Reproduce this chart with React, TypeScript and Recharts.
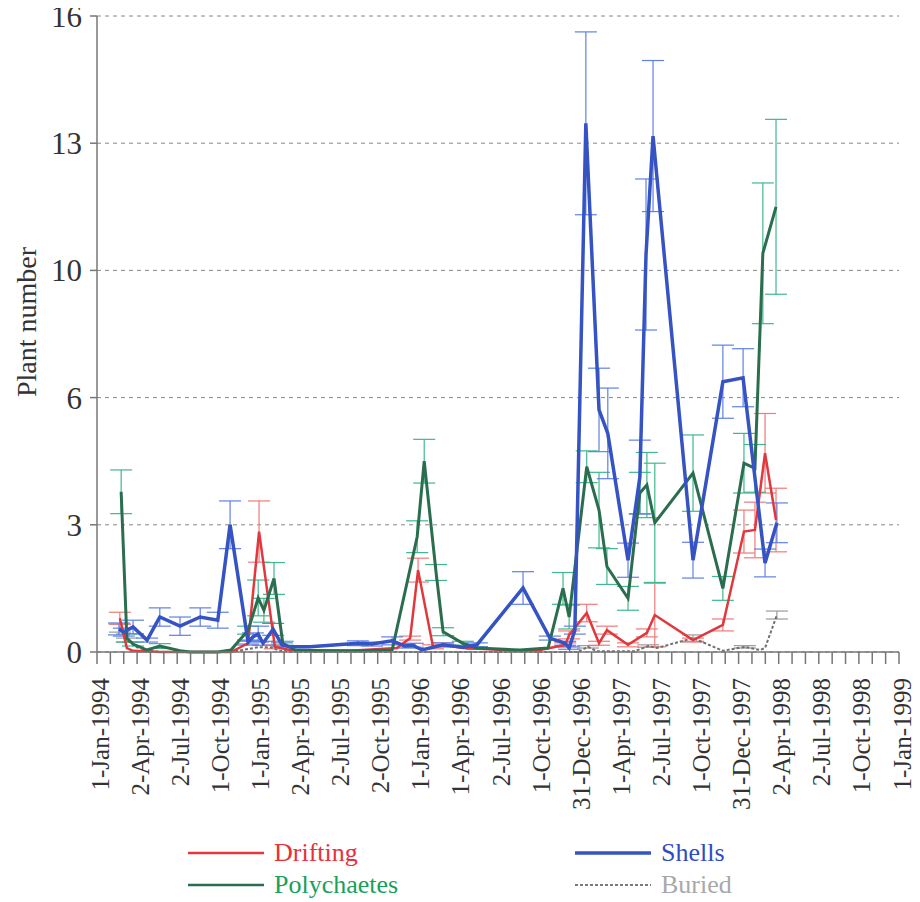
import React from 'react';
import { LineChart, Line, XAxis, YAxis, CartesianGrid, ErrorBar } from 'recharts';

// x values: days since 1-Jan-1994
const TOTAL_DAYS = 1826;
const TICK_LABELS = [
  '1-Jan-1994', '2-Apr-1994', '2-Jul-1994', '1-Oct-1994', '1-Jan-1995', '2-Apr-1995',
  '2-Jul-1995', '2-Oct-1995', '1-Jan-1996', '1-Apr-1996', '2-Jul-1996', '1-Oct-1996',
  '31-Dec-1996', '1-Apr-1997', '2-Jul-1997', '1-Oct-1997', '31-Dec-1997', '2-Apr-1998',
  '2-Jul-1998', '1-Oct-1998', '1-Jan-1999',
];
const Y_TICKS = [0, 3.2, 6.4, 9.6, 12.8, 16];

const shellsDay = [50, 61, 82, 114, 143, 189, 235, 275, 303, 344, 355, 367, 378, 401, 421, 439, 485, 594, 626, 672, 701, 719, 740, 788, 833, 865, 970, 1031, 1066, 1075, 1088, 1113, 1143, 1163, 1209, 1236, 1250, 1266, 1357, 1425, 1471, 1521, 1548];
const shellsValue = [0.58, 0.5, 0.63, 0.3, 0.88, 0.65, 0.88, 0.8, 3.2, 0.25, 0.38, 0.45, 0.22, 0.57, 0.18, 0.13, 0.13, 0.22, 0.2, 0.28, 0.15, 0.17, 0.05, 0.18, 0.12, 0.18, 1.61, 0.35, 0.22, 0.1, 0.55, 13.3, 6.09, 5.5, 2.31, 4.4, 10.0, 12.98, 2.31, 6.8, 6.9, 2.24, 3.25];
const shellsError = [0.15, 0.1, 0.17, 0.05, 0.23, 0.23, 0.23, 0.2, 0.6, 0.05, 0.1, 0.2, 0.05, 0.15, 0.05, 0, 0, 0.06, 0.05, 0.1, 0.05, 0.05, 0, 0.05, 0, 0.05, 0.41, 0.05, 0.05, 0.03, 0.1, 2.3, 1.05, 1.14, 0.43, 0.93, 1.9, 1.9, 0.45, 0.92, 0.73, 0.35, 0.5];

const polyDay = [55, 68, 82, 114, 143, 189, 212, 275, 305, 344, 367, 380, 403, 423, 451, 508, 599, 672, 729, 745, 772, 788, 833, 865, 963, 1027, 1061, 1075, 1115, 1143, 1161, 1209, 1236, 1252, 1270, 1357, 1425, 1473, 1498, 1516, 1546];
const polyValue = [4.03, 0.35, 0.2, 0.05, 0.15, 0.03, 0, 0, 0.05, 0.55, 1.36, 1.05, 1.85, 0.22, 0.05, 0.03, 0.03, 0.05, 2.9, 4.8, 2.0, 0.51, 0.22, 0.1, 0.05, 0.1, 1.6, 0.88, 4.66, 3.57, 2.15, 1.35, 4.0, 4.2, 3.25, 4.5, 1.6, 4.75, 4.62, 10.03, 11.2];
const polyError = [0.55, 0.1, 0.05, 0, 0.06, 0, 0, 0, 0, 0.1, 0.45, 0.3, 0.4, 0.05, 0, 0, 0, 0, 0.4, 0.55, 0.2, 0.1, 0.05, 0.03, 0, 0, 0.4, 0.3, 0.4, 0.95, 0.45, 0.3, 0.52, 0.82, 1.5, 0.96, 0.3, 0.75, 0.6, 1.77, 2.2];

const driftDay = [52, 68, 82, 143, 235, 305, 344, 369, 405, 439, 576, 683, 713, 731, 765, 788, 833, 963, 1009, 1066, 1075, 1115, 1143, 1161, 1209, 1252, 1270, 1357, 1425, 1473, 1498, 1521, 1546];
const driftValue = [0.85, 0.1, 0.03, 0, 0, 0, 0.22, 3.03, 0.13, 0.05, 0.03, 0.1, 0.35, 2.06, 0.13, 0.18, 0.1, 0.03, 0.05, 0.18, 0.43, 0.98, 0.22, 0.55, 0.18, 0.48, 0.93, 0.3, 0.68, 3.03, 3.07, 5.0, 3.32];
const driftError = [0.15, 0, 0, 0, 0, 0, 0.05, 0.77, 0.05, 0, 0, 0, 0.05, 0.3, 0.05, 0.05, 0, 0, 0, 0.05, 0.1, 0.22, 0.05, 0.1, 0.05, 0.1, 0.8, 0.05, 0.15, 0.54, 0.7, 1.0, 0.8];

const buriedDay = [52, 68, 91, 114, 143, 305, 367, 394, 417, 462, 1095, 1118, 1138, 1225, 1255, 1275, 1357, 1425, 1475, 1510, 1521, 1548];
const buriedValue = [0.6, 0.3, 0.12, 0.05, 0, 0, 0.12, 0.12, 0.03, 0, 0, 0.13, 0.02, 0.02, 0.15, 0.1, 0.35, 0.03, 0.13, 0.05, 0.1, 0.93];
const buriedError = [0.1, 0.05, 0, 0, 0, 0, 0, 0, 0, 0, 0, 0.03, 0, 0, 0.03, 0, 0.08, 0, 0.03, 0, 0, 0.1];

type Pt = { d: number; v: number; e: number };
const build = (days: number[], vals: number[], errs: number[]): Pt[] =>
  days.map((d, i) => ({ d, v: vals[i], e: errs[i] }));

const SERIES = [
  { name: 'Buried', data: build(buriedDay, buriedValue, buriedError), color: '#6f6f6f', err: '#9a9a9a', width: 2, dash: '3 2' },
  { name: 'Drifting', data: build(driftDay, driftValue, driftError), color: '#e0383c', err: '#f07a7a', width: 2.5, dash: undefined },
  { name: 'Polychaetes', data: build(polyDay, polyValue, polyError), color: '#2b6e4f', err: '#3fb88c', width: 3, dash: undefined },
  { name: 'Shells', data: build(shellsDay, shellsValue, shellsError), color: '#3553c2', err: '#5f80e6', width: 3.5, dash: undefined },
];

const X_TICKS = Array.from({ length: 61 }, (_, i) => (i * TOTAL_DAYS) / 60);
const FONT = "'Liberation Serif', 'Times New Roman', serif";

const XTick = (props: any) => {
  const { x, y, payload } = props;
  const idx = Math.round(payload.value / (TOTAL_DAYS / 60));
  if (idx % 3 !== 0) return null;
  const label = TICK_LABELS[idx / 3];
  const tx = x + 3;
  return (
    <text
      x={tx}
      y={y}
      transform={`rotate(-90 ${tx} ${y})`}
      textAnchor="end"
      dominantBaseline="central"
      fontSize={25}
      fontFamily={FONT}
      fill="#333"
    >
      {label}
    </text>
  );
};

const legendItems = [
  { name: 'Drifting', color: '#e0383c', text: '#e8303a', left: 188, top: 853, width: 2.5, dash: false },
  { name: 'Shells', color: '#3553c2', text: '#2f4bc4', left: 575, top: 853, width: 3.5, dash: false },
  { name: 'Polychaetes', color: '#2b6e4f', text: '#18a05a', left: 188, top: 885, width: 2.5, dash: false },
  { name: 'Buried', color: '#7a7a7a', text: '#a8a8a8', left: 575, top: 885, width: 2, dash: true },
];

export default function App() {
  return (
    <div style={{ position: 'relative', width: 920, height: 902, marginTop: -8, marginLeft: -8, background: '#fff' }}>
      <LineChart width={920} height={902} margin={{ top: 16, right: 21, bottom: 100, left: 0 }}>
        <CartesianGrid vertical={false} stroke="#888" strokeDasharray="4 4" />
        <XAxis
          dataKey="d"
          type="number"
          domain={[0, TOTAL_DAYS]}
          ticks={X_TICKS}
          interval={0}
          height={150}
          tickSize={12}
          tickMargin={14}
          tick={<XTick />}
          stroke="#777"
          strokeWidth={1.5}
          allowDuplicatedCategory={false}
        />
        <YAxis
          type="number"
          domain={[0, 16]}
          ticks={Y_TICKS}
          interval={0}
          width={97}
          tickSize={7}
          tickMargin={8}
          tickFormatter={(v: number) => String(Math.round(v))}
          tick={{ fontSize: 31, fontFamily: FONT, fill: '#333' }}
          stroke="#777"
          strokeWidth={1.5}
        />
        {SERIES.map((s) => (
          <Line
            key={s.name + '-err'}
            data={s.data.filter((p) => p.e > 0)}
            dataKey="v"
            stroke="#fff"
            strokeOpacity={0}
            dot={false}
            activeDot={false}
            isAnimationActive={false}
          >
            <ErrorBar dataKey="e" width={11} stroke={s.err} strokeWidth={1.2} direction="y" />
          </Line>
        ))}
        {SERIES.map((s) => (
          <Line
            key={s.name}
            data={s.data}
            dataKey="v"
            name={s.name}
            stroke={s.color}
            strokeWidth={s.width}
            strokeDasharray={s.dash}
            strokeLinejoin="miter"
            dot={false}
            activeDot={false}
            isAnimationActive={false}
          />
        ))}
      </LineChart>
      <div
        style={{
          position: 'absolute',
          left: 27,
          top: 322,
          transform: 'translate(-50%, -50%) rotate(-90deg)',
          whiteSpace: 'nowrap',
          fontFamily: FONT,
          fontSize: 28,
          lineHeight: 1,
          color: '#333',
        }}
      >
        Plant number
      </div>
      {legendItems.map((it) => (
        <div
          key={it.name}
          style={{
            position: 'absolute',
            left: it.left,
            top: it.top,
            transform: 'translateY(-50%)',
            display: 'flex',
            alignItems: 'center',
            fontFamily: FONT,
            fontSize: 26,
            lineHeight: 1,
            whiteSpace: 'nowrap',
          }}
        >
          <svg width={76} height={10} style={{ marginRight: 10 }}>
            <line
              x1={0}
              y1={5}
              x2={76}
              y2={5}
              stroke={it.color}
              strokeWidth={it.width}
              strokeDasharray={it.dash ? '3 2' : undefined}
            />
          </svg>
          <span style={{ color: it.text }}>{it.name}</span>
        </div>
      ))}
    </div>
  );
}
